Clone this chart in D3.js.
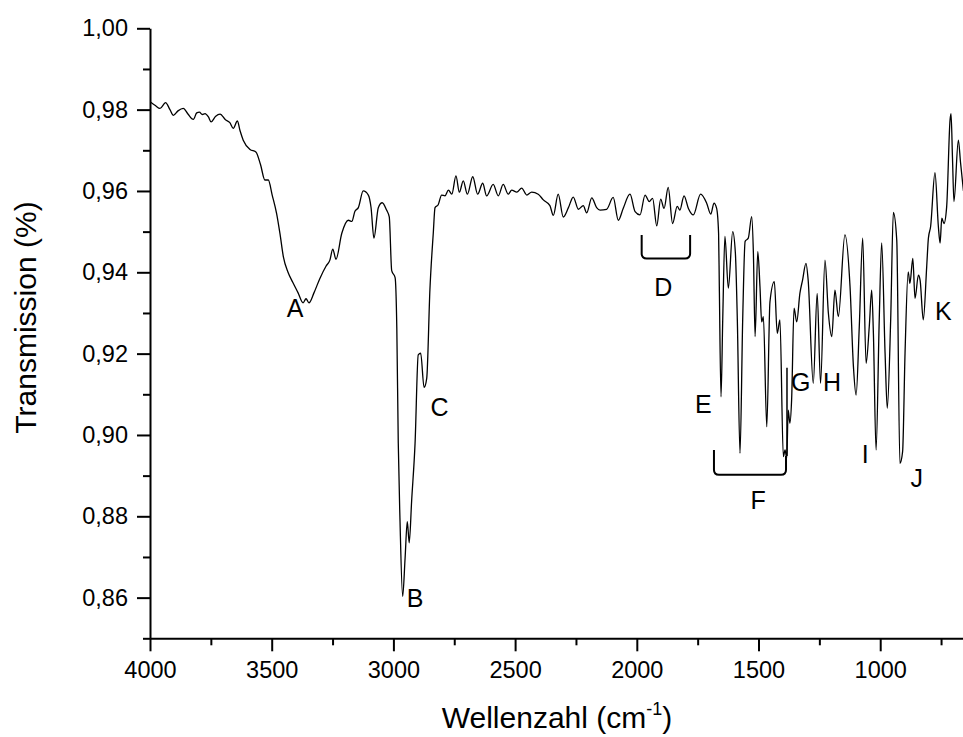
<!DOCTYPE html>
<html>
<head>
<meta charset="utf-8">
<script src="https://cdn.jsdelivr.net/npm/d3@7/dist/d3.min.js"></script>
<style>
  html, body { margin: 0; padding: 0; background: #fff; }
  svg { display: block; font-family: "Liberation Sans", Arial, sans-serif; }
</style>
</head>
<body>
<svg id="chart" width="963" height="737"></svg>
<script>
// ---- data ----
const wavenumber = [3997,3978,3959,3936,3918,3904,3885,3863,3845,3822,3808,3797,3785,3774,3760,3749,3730,3712,3690,3672,3658,3641,3630,3617,3589,3565,3546,3528,3514,3498,3480,3466,3452,3433,3413,3392,3371,3359,3347,3326,3302,3277,3261,3249,3236,3212,3185,3171,3158,3144,3124,3103,3092,3080,3062,3046,3028,3017,3007,2993,2986,2980,2973,2962,2952,2943,2935,2925,2911,2898,2888,2874,2863,2850,2836,2829,2816,2802,2788,2774,2760,2743,2729,2713,2696,2674,2654,2633,2617,2590,2569,2549,2528,2514,2493,2473,2452,2432,2405,2384,2357,2343,2323,2302,2281,2261,2240,2220,2206,2185,2165,2151,2124,2097,2076,2056,2028,2007,1987,1966,1949,1935,1918,1902,1888,1871,1853,1834,1823,1806,1788,1768,1738,1713,1696,1683,1672,1664,1661,1654,1647,1638,1624,1606,1595,1587,1576,1565,1555,1542,1528,1521,1514,1503,1494,1487,1480,1466,1453,1435,1423,1412,1398,1391,1384,1378,1371,1364,1354,1343,1330,1319,1305,1296,1275,1259,1245,1227,1213,1199,1186,1172,1145,1124,1110,1099,1086,1072,1058,1045,1035,1028,1017,1004,994,980,971,957,946,932,919,908,898,885,878,866,857,843,836,823,809,802,793,775,761,754,747,738,727,713,709,703,697,679,670,658];
const transmission = [0.9818,0.9810,0.9803,0.9817,0.9800,0.9786,0.9797,0.9803,0.9790,0.9776,0.9792,0.9794,0.9788,0.9790,0.9782,0.9770,0.9784,0.9789,0.9775,0.9768,0.9754,0.9772,0.9748,0.9725,0.9702,0.9696,0.9665,0.9627,0.9627,0.9590,0.9545,0.9495,0.9438,0.9400,0.9375,0.9350,0.9325,0.9335,0.9325,0.9350,0.9385,0.9415,0.9430,0.9457,0.9432,0.9496,0.9528,0.9525,0.9550,0.9559,0.9600,0.9590,0.9560,0.9484,0.9559,0.9571,0.9553,0.9536,0.9404,0.9387,0.9263,0.8980,0.8792,0.8603,0.8697,0.8787,0.8735,0.8839,0.8980,0.9197,0.9201,0.9117,0.9140,0.9357,0.9498,0.9559,0.9566,0.9590,0.9588,0.9602,0.9592,0.9637,0.9597,0.9625,0.9592,0.9635,0.9592,0.9619,0.9588,0.9616,0.9588,0.9616,0.9592,0.9602,0.9597,0.9607,0.9590,0.9597,0.9592,0.9578,0.9564,0.9540,0.9592,0.9536,0.9559,0.9585,0.9555,0.9564,0.9546,0.9583,0.9559,0.9553,0.9555,0.9584,0.9528,0.9557,0.9592,0.9549,0.9541,0.9590,0.9574,0.9582,0.9514,0.9580,0.9557,0.9609,0.9520,0.9562,0.9553,0.9588,0.9557,0.9541,0.9592,0.9570,0.9543,0.9570,0.9557,0.9496,0.9365,0.9094,0.9283,0.9488,0.9361,0.9500,0.9447,0.9283,0.8955,0.9283,0.9476,0.9484,0.9537,0.9447,0.9242,0.9451,0.9365,0.9278,0.9291,0.9020,0.9327,0.9377,0.9250,0.9283,0.8947,0.8963,0.8943,0.9061,0.9029,0.9086,0.9312,0.9278,0.9348,0.9381,0.9422,0.9381,0.9127,0.9348,0.9127,0.9430,0.9300,0.9242,0.9356,0.9291,0.9492,0.9365,0.9168,0.9098,0.9266,0.9484,0.9176,0.9266,0.9356,0.9250,0.8963,0.9283,0.9472,0.9201,0.9066,0.9283,0.9547,0.9479,0.8930,0.8959,0.9201,0.9401,0.9373,0.9434,0.9336,0.9393,0.9380,0.9283,0.9414,0.9484,0.9512,0.9645,0.9512,0.9472,0.9533,0.9520,0.9561,0.9775,0.9790,0.9680,0.9574,0.9725,0.9670,0.9600];

const xMajorTicks = [4000,3500,3000,2500,2000,1500,1000];
const xMinorTicks = [3750,3250,2750,2250,1750,1250,750];
const yMajorTicks = [0.86,0.88,0.90,0.92,0.94,0.96,0.98,1.00];
const yMinorTicks = [0.85,0.87,0.89,0.91,0.93,0.95,0.97,0.99];

// peak labels: [text, wavenumber, transmission(baseline)]
const peakLabels = [["A",3404,0.9290],["B",2911,0.8577],["C",2810,0.9047],["D",1891,0.9342],["E",1727,0.9055],["F",1501,0.8818],["G",1327,0.9108],["H",1198,0.9108],["I",1062,0.8931],["J",850,0.8872],["K",741,0.9283]];
// brackets: [leftWn, rightWn, topLeftT, bottomT, topRightT]
const brackets = [[1980,1781,0.9492,0.9434,0.9492],[1683,1387,0.8963,0.8902,0.8948]];
// marker line near G: [wn, tTop, tBottom]
const markerLine = [1383,0.9165,0.8948];

// ---- chart ----
const svg = d3.select("#chart");
svg.append("rect").attr("width",963).attr("height",737).attr("fill","#fff");

const x = d3.scaleLinear().domain([4000,650]).range([150,965.4]);
const y = d3.scaleLinear().domain([0.85,1.00]).range([638.3,28.3]);

const fmt = d => d3.format(".2f")(d).replace(".", ",");

// minor ticks
svg.append("g").attr("transform","translate(0,638.3)")
  .call(d3.axisBottom(x).tickValues(xMinorTicks).tickSize(7).tickFormat(""))
  .call(g => g.select(".domain").remove());
svg.append("g").attr("transform","translate(150,0)")
  .call(d3.axisLeft(y).tickValues(yMinorTicks).tickSize(7).tickFormat(""))
  .call(g => g.select(".domain").remove());

// major axes
const xAxis = svg.append("g").attr("transform","translate(0,638.3)")
  .call(d3.axisBottom(x).tickValues(xMajorTicks).tickSize(13).tickSizeOuter(0).tickPadding(10).tickFormat(d3.format("d")));
const yAxis = svg.append("g").attr("transform","translate(150,0)")
  .call(d3.axisLeft(y).tickValues(yMajorTicks).tickSize(13).tickSizeOuter(0).tickPadding(9).tickFormat(fmt));

svg.selectAll(".domain, .tick line").attr("stroke","#000").attr("stroke-width",2);
svg.selectAll(".tick text").attr("font-size","23.5px").attr("fill","#000")
  .attr("font-family","'Liberation Sans', Arial, sans-serif");

// spectrum
const pts = wavenumber.map((w,i) => [w, transmission[i]]);
const line = d3.line().x(d => x(d[0])).y(d => y(d[1])).curve(d3.curveMonotoneX);
svg.append("path").datum(pts).attr("d", line)
  .attr("fill","none").attr("stroke","#000").attr("stroke-width",1.3).attr("stroke-linejoin","round");

// brackets
const r = 5;
brackets.forEach(b => {
  const x0 = x(b[0]), x1 = x(b[1]), yt = y(b[2]), yb = y(b[3]), yt2 = y(b[4]);
  const p = `M${x0},${yt} L${x0},${yb-r} Q${x0},${yb} ${x0+r},${yb} L${x1-r},${yb} Q${x1},${yb} ${x1},${yb-r} L${x1},${yt2}`;
  svg.append("path").attr("d",p).attr("fill","none").attr("stroke","#000").attr("stroke-width",2);
});
svg.append("line")
  .attr("x1",x(markerLine[0])).attr("x2",x(markerLine[0]))
  .attr("y1",y(markerLine[1])).attr("y2",y(markerLine[2]))
  .attr("stroke","#000").attr("stroke-width",1.5);

// peak labels
svg.append("g").selectAll("text").data(peakLabels).join("text")
  .attr("x", d => x(d[1])).attr("y", d => y(d[2]))
  .attr("text-anchor","middle").attr("font-size","25px").attr("fill","#000")
  .text(d => d[0]);

// axis titles
const xt = svg.append("text").attr("x",557).attr("y",728).attr("text-anchor","middle")
  .attr("font-size","30px").attr("fill","#000");
xt.append("tspan").text("Wellenzahl (cm");
xt.append("tspan").attr("font-size","18px").attr("dy","-13").text("-1");
xt.append("tspan").attr("dy","13").text(")");

svg.append("text").attr("transform","translate(36,317.5) rotate(-90)")
  .attr("text-anchor","middle").attr("font-size","30px").attr("fill","#000")
  .text("Transmission (%)");
</script>
</body>
</html>
